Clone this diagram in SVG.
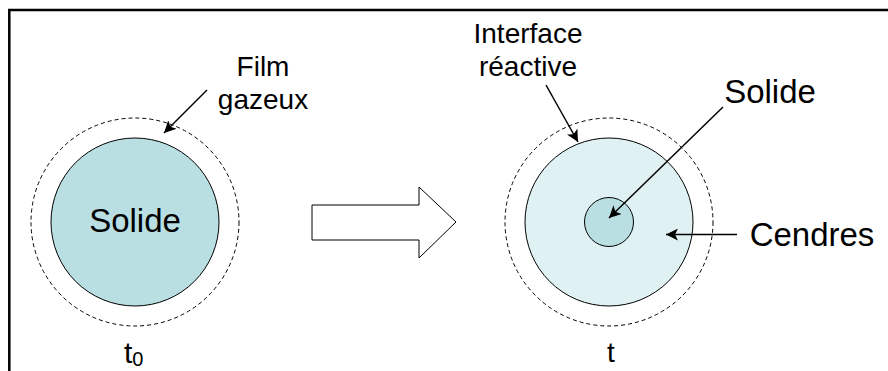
<svg xmlns="http://www.w3.org/2000/svg" width="888" height="371" viewBox="0 0 888 371">
<defs>
<style>
text{font-family:"Liberation Sans",Arial,sans-serif;fill:#000}
.dash{fill:none;stroke:#000;stroke-width:1;stroke-dasharray:4 3}
.solid{fill:#b9dfe2;stroke:#000;stroke-width:1}
.ash{fill:#dff1f2;stroke:#000;stroke-width:1}
.lead{fill:none;stroke:#000;stroke-width:1.5;marker-end:url(#ah)}
</style>
<marker id="ah" viewBox="0 0 12 12" refX="12" refY="6" markerWidth="12" markerHeight="12" markerUnits="userSpaceOnUse" orient="auto">
<path d="M0,0 L12,6 L0,12 L3,6 Z" fill="#000"/>
</marker>
</defs>
<rect width="888" height="371" fill="#fff"/>
<path d="M9.3 371 V10 H888" fill="none" stroke="#000" stroke-width="2.5"/>

<g id="particle-t0">
<circle class="dash" cx="135" cy="222" r="104"/>
<circle class="solid" cx="135" cy="222" r="84"/>
<text x="135" y="232" font-size="33" text-anchor="middle">Solide</text>
</g>
<g id="label-film">
<text x="263" y="75.5" font-size="28" text-anchor="middle">Film</text>
<text x="263" y="109" font-size="28" text-anchor="middle">gazeux</text>
</g>
<g id="label-t0">
<text x="124" y="363" font-size="30">t<tspan dy="3" font-size="20">0</tspan></text>
</g>

<g id="big-arrow">
<path d="M312 205 H419 V187 L456 222 L419 258 V240 H312 Z" fill="#fff" stroke="#000" stroke-width="1"/>
</g>

<g id="particle-t">
<circle class="dash" cx="609" cy="222" r="104"/>
<circle class="ash" cx="609" cy="222" r="84"/>
<circle class="solid" cx="609" cy="222" r="24.5"/>
</g>
<g id="label-interface">
<text x="528" y="43" font-size="28" text-anchor="middle">Interface</text>
<text x="528" y="76" font-size="28" text-anchor="middle">réactive</text>
</g>
<g id="label-solide">
<text x="770" y="102.5" font-size="33" text-anchor="middle">Solide</text>
</g>
<g id="label-cendres">
<text x="812" y="246" font-size="33" text-anchor="middle">Cendres</text>
</g>
<g id="label-t">
<text x="611" y="362" font-size="28" text-anchor="middle">t</text>
</g>

<g id="connectors">
<line class="lead" x1="207" y1="90" x2="164" y2="133"/>
<line class="lead" x1="546" y1="85" x2="578" y2="142"/>
<line class="lead" x1="723" y1="107" x2="609" y2="218"/>
<line class="lead" x1="737" y1="234.5" x2="666" y2="234.5"/>
</g>
</svg>
